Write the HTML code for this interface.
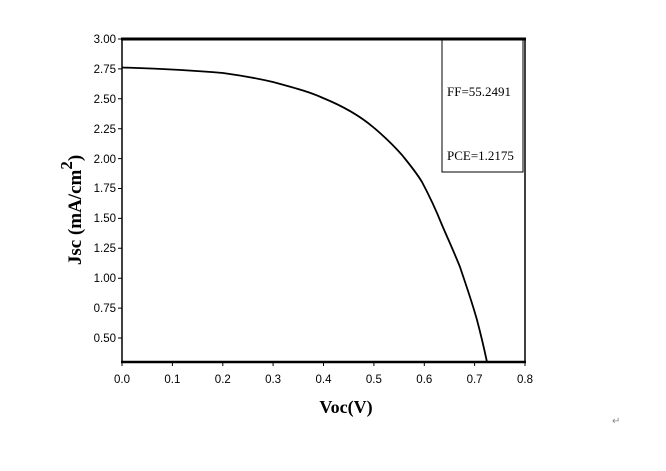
<!DOCTYPE html>
<html><head><style>body{margin:0;background:#fff}</style></head><body>
<svg width="666" height="466" xmlns="http://www.w3.org/2000/svg" font-family="Liberation Sans, sans-serif">
<rect width="666" height="466" fill="#fff"/>
<g stroke="#000" stroke-width="1">
<line x1="122" y1="39" x2="122" y2="362" stroke-width="1.5"/>
<line x1="525" y1="39" x2="525" y2="362" stroke-width="1.5"/>
<line x1="121" y1="39" x2="526" y2="39" stroke-width="3"/>
<line x1="121" y1="362" x2="526" y2="362" stroke-width="2.5"/>
<rect x="442" y="40" width="81" height="132" fill="none"/>
</g>
<g stroke="#000" stroke-width="1">
<path d="M118 39h4M118 68.9h4M118 98.8h4M118 128.7h4M118 158.6h4M118 188.5h4M118 218.4h4M118 248.3h4M118 278.2h4M118 308.1h4M118 338h4"/>
<path d="M122 362v4M172.4 362v4M222.8 362v4M273.1 362v4M323.5 362v4M373.9 362v4M424.3 362v4M474.6 362v4M525 362v4"/>
</g>
<g font-size="11.5" text-anchor="end" fill="#000">
<text x="116" y="43">3.00</text><text x="116" y="73">2.75</text><text x="116" y="103">2.50</text><text x="116" y="133">2.25</text><text x="116" y="163">2.00</text><text x="116" y="192">1.75</text><text x="116" y="222">1.50</text><text x="116" y="252">1.25</text><text x="116" y="282">1.00</text><text x="116" y="312">0.75</text><text x="116" y="342">0.50</text>
</g>
<g font-size="11.5" text-anchor="middle" fill="#000">
<text x="122" y="383">0.0</text><text x="172.4" y="383">0.1</text><text x="222.8" y="383">0.2</text><text x="273.1" y="383">0.3</text><text x="323.5" y="383">0.4</text><text x="373.9" y="383">0.5</text><text x="424.3" y="383">0.6</text><text x="474.6" y="383">0.7</text><text x="525" y="383">0.8</text>
</g>
<text x="346" y="413" font-family="Liberation Serif, serif" font-weight="bold" font-size="18" text-anchor="middle">Voc(V)</text>
<text transform="translate(81,210) rotate(-90)" font-family="Liberation Serif, serif" font-weight="bold" font-size="19" text-anchor="middle">Jsc (mA/cm<tspan dy="-9" font-size="17">2</tspan><tspan dy="9">)</tspan></text>
<g font-family="Liberation Serif, serif" font-size="13">
<text x="447" y="96">FF=55.2491</text>
<text x="447" y="160">PCE=1.2175</text>
</g>
<path d="M122 67.5 C170 69 200 71 223 73 C245 76 260 79 273 82 C295 88 310 92 323 98 C345 107 360 116 373 127 C385 137 395 147 402 155 C410 165 416 172 422 182 C430 197 436 210 442 225 C448 239 454 252 460 267 C466 285 472 302 477 320 C481 335 484 348 487 362" fill="none" stroke="#000" stroke-width="1.8"/>
<text x="612" y="424" font-size="10" fill="#888">↵</text>
</svg>
</body></html>
